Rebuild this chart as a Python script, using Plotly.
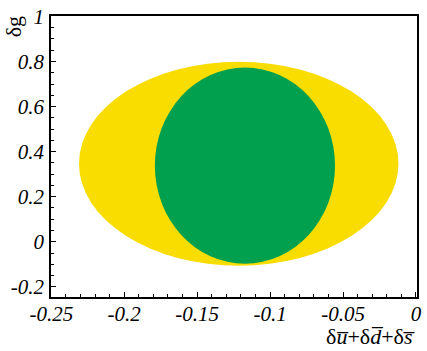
import plotly.graph_objects as go

# Region boundaries (data coordinates)
region_names = ["outer", "inner"]
region_colors = ["#F9DC00", "#00A04F"]
x_min = [-0.231, -0.179]
x_max = [-0.012, -0.0555]
y_min = [-0.106, -0.097]
y_max = [0.799, 0.773]

x_tickvals = [-0.25, -0.2, -0.15, -0.1, -0.05, 0]
x_ticktext = ["-0.25", "-0.2", "-0.15", "-0.1", "-0.05", "0"]
y_tickvals = [-0.2, 0, 0.2, 0.4, 0.6, 0.8, 1.0]
y_ticktext = ["-0.2", "0", "0.2", "0.4", "0.6", "0.8", "1"]

fig = go.Figure()
fig.add_trace(go.Scatter(x=[None], y=[None], mode="markers", showlegend=False,
                         hoverinfo="skip"))

for name, col, x0, x1, y0, y1 in zip(region_names, region_colors, x_min, x_max, y_min, y_max):
    fig.add_shape(type="circle", xref="x", yref="y", x0=x0, x1=x1, y0=y0, y1=y1,
                  fillcolor=col, line=dict(width=0), layer="below", name=name)

serif = "Liberation Serif"
tickfont = dict(family=serif, size=21, color="black")

fig.update_xaxes(range=[-0.2502, 0.0007], tickvals=x_tickvals,
                 ticktext=["<i>%s</i>" % t for t in x_ticktext],
                 ticks="inside", ticklen=5, tickwidth=1, tickcolor="black",
                 minor=dict(dtick=0.01, tick0=0, ticks="inside", ticklen=3, tickcolor="black"),
                 showline=True, linecolor="black", linewidth=1.5, mirror=True,
                 showgrid=False, zeroline=False, tickfont=tickfont, ticklabelstandoff=-3,
                 ticklabeloverflow="allow")
fig.update_yaxes(range=[-0.245, 1.002], tickvals=y_tickvals,
                 ticktext=["<i>%s</i>" % t for t in y_ticktext],
                 ticks="inside", ticklen=5, tickwidth=1, tickcolor="black",
                 minor=dict(dtick=0.05, tick0=0, ticks="inside", ticklen=3, tickcolor="black"),
                 showline=True, linecolor="black", linewidth=1.5, mirror=True,
                 showgrid=False, zeroline=False, tickfont=tickfont, ticklabelstandoff=1,
                 ticklabeloverflow="allow")

fig.add_annotation(text="δg", xref="paper", yref="paper", x=-0.102, y=0.962,
                   xanchor="center", yanchor="middle",
                   showarrow=False, textangle=-90,
                   font=dict(family=serif, size=22, color="black"))
fig.add_annotation(text="δ<i>u\u0305</i>+δ<i>d\u0305</i>+δ<i>s\u0305</i>",
                   xref="paper", yref="paper", x=1.0, y=-0.14, xanchor="right",
                   yanchor="middle", showarrow=False,
                   font=dict(family=serif, size=22, color="black"))

fig.update_layout(width=427, height=351, margin=dict(l=51, r=5, t=10, b=54),
                  plot_bgcolor="white", paper_bgcolor="white", showlegend=False)

fig.write_html("out.html")
